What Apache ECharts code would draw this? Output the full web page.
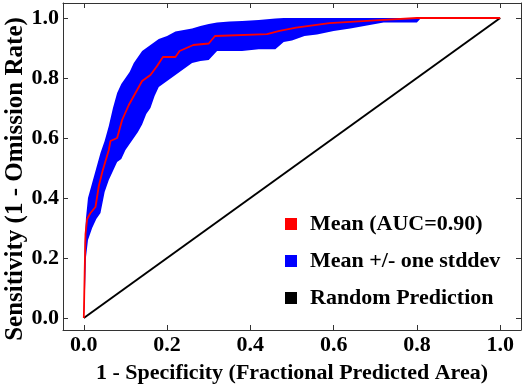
<!DOCTYPE html>
<html>
<head>
<meta charset="utf-8">
<script src="https://cdn.jsdelivr.net/npm/echarts@6/dist/echarts.min.js"></script>
<style>
  html, body { margin: 0; padding: 0; background: #fff; }
  #roc { width: 526px; height: 389px; }
</style>
</head>
<body>
<div id="roc"></div>
<script>
// tick labels (both axes)
var tickVals = [0, 0.2, 0.4, 0.6, 0.8, 1.0]

// stddev band: x, lower and upper edge
var bandX = [0, 0.002, 0.005, 0.01, 0.02, 0.03, 0.04, 0.05, 0.06, 0.07, 0.08, 0.09, 0.10, 0.11, 0.12, 0.13, 0.14, 0.15, 0.16, 0.17, 0.18, 0.19, 0.20, 0.22, 0.24, 0.26, 0.28, 0.30, 0.32, 0.35, 0.38, 0.42, 0.46, 0.48, 0.50, 0.53, 0.56, 0.60, 0.64, 0.68, 0.72, 0.76, 0.80, 0.81]
var bandLow = [0, 0.05, 0.20, 0.26, 0.30, 0.33, 0.35, 0.42, 0.46, 0.49, 0.52, 0.53, 0.56, 0.58, 0.60, 0.62, 0.645, 0.68, 0.70, 0.74, 0.77, 0.78, 0.79, 0.81, 0.83, 0.85, 0.857, 0.86, 0.89, 0.89, 0.89, 0.896, 0.896, 0.92, 0.925, 0.94, 0.945, 0.957, 0.965, 0.975, 0.985, 0.985, 0.985, 1.0]
var bandHigh = [0, 0.25, 0.33, 0.40, 0.45, 0.50, 0.55, 0.59, 0.64, 0.70, 0.75, 0.78, 0.80, 0.82, 0.85, 0.87, 0.89, 0.90, 0.91, 0.92, 0.93, 0.935, 0.94, 0.955, 0.96, 0.965, 0.973, 0.98, 0.985, 0.988, 0.99, 0.993, 0.998, 1.0, 1.0, 1.0, 1.0, 1.0, 1.0, 1.0, 1.0, 1.0, 1.0, 1.0]

// mean ROC curve
var meanX = [0, 0.002, 0.004, 0.008, 0.016, 0.028, 0.036, 0.045, 0.06, 0.064, 0.08, 0.092, 0.108, 0.124, 0.14, 0.16, 0.176, 0.19, 0.22, 0.23, 0.263, 0.30, 0.315, 0.44, 0.47, 0.51, 0.59, 0.71, 0.80, 1.0]
var meanY = [0, 0.15, 0.28, 0.33, 0.35, 0.37, 0.44, 0.49, 0.56, 0.59, 0.60, 0.66, 0.71, 0.75, 0.79, 0.81, 0.84, 0.87, 0.87, 0.89, 0.91, 0.915, 0.94, 0.946, 0.957, 0.968, 0.983, 0.993, 1.0, 1.0]

// random prediction diagonal
var randX = [0, 1]
var randY = [0, 1]

var font = 'Liberation Serif'

var bandRows = bandX.map(function (x, i) { return [x, bandLow[i], bandHigh[i]] })
var meanData = meanX.map(function (x, i) { return [x, meanY[i]] })
var randData = randX.map(function (x, i) { return [x, randY[i]] })

function axisBase(pos, showLabel) {
  return {
    type: 'value',
    position: pos,
    min: pos === 'left' || pos === 'right' ? -0.04 : -0.05,
    max: 1.05,
    splitLine: { show: false },
    axisLine: { show: true, onZero: false, lineStyle: { color: '#333', width: 1 } },
    axisTick: { show: true, inside: true, length: 5, customValues: tickVals, lineStyle: { color: '#333' } },
    axisLabel: {
      show: showLabel,
      customValues: tickVals,
      formatter: function (v) { return v.toFixed(1) },
      fontFamily: font,
      fontWeight: 'bold',
      fontSize: 22,
      color: '#000',
      margin: 4
    }
  }
}

var xBottom = axisBase('bottom', true)
xBottom.name = '1 - Specificity (Fractional Predicted Area)'
xBottom.nameLocation = 'middle'
xBottom.nameGap = 32
xBottom.nameTextStyle = { fontFamily: font, fontWeight: 'bold', fontSize: 22, color: '#000' }

var chart = echarts.init(document.getElementById('roc'))
chart.setOption({
  animation: false,
  backgroundColor: '#fff',
  grid: { left: 63, right: 5, top: 3, bottom: 59, outerBoundsMode: 'none' },
  xAxis: [xBottom, axisBase('top', false)],
  yAxis: [axisBase('left', true), axisBase('right', false)],
  graphic: [{
    type: 'text',
    x: 16,
    y: 179,
    rotation: Math.PI / 2,
    style: {
      text: 'Sensitivity (1 - Omission Rate)',
      font: 'bold 25px "Liberation Serif"',
      fill: '#000',
      align: 'center',
      verticalAlign: 'middle'
    }
  }],
  legend: {
    orient: 'vertical',
    left: 280,
    top: 208,
    itemGap: 15,
    itemWidth: 12,
    itemHeight: 12,
    icon: 'rect',
    data: ['Mean (AUC=0.90)', 'Mean +/- one stddev', 'Random Prediction'],
    textStyle: { fontFamily: font, fontWeight: 'bold', fontSize: 22, color: '#000', padding: [0, 0, 0, 8] }
  },
  series: [
    {
      name: 'Mean +/- one stddev',
      type: 'custom',
      data: bandRows,
      encode: { x: 0, y: [1, 2] },
      itemStyle: { color: '#0000ff' },
      renderItem: function (params, api) {
        if (params.dataIndex !== 0) return
        var pts = []
        for (var i = 0; i < bandRows.length; i++) pts.push(api.coord([bandRows[i][0], bandRows[i][2]]))
        for (var j = bandRows.length - 1; j >= 0; j--) pts.push(api.coord([bandRows[j][0], bandRows[j][1]]))
        return { type: 'polygon', shape: { points: pts }, style: { fill: '#0000ff' } }
      },
      z: 2
    },
    {
      name: 'Random Prediction',
      type: 'line',
      data: randData,
      symbol: 'none',
      itemStyle: { color: '#000' },
      lineStyle: { color: '#000', width: 2 },
      z: 3
    },
    {
      name: 'Mean (AUC=0.90)',
      type: 'line',
      data: meanData,
      symbol: 'none',
      itemStyle: { color: '#ff0000' },
      lineStyle: { color: '#ff0000', width: 1.8 },
      z: 4
    }
  ]
})
</script>
</body>
</html>
